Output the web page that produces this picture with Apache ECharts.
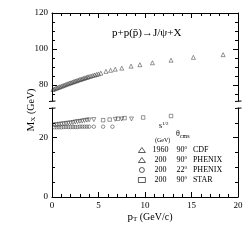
<!DOCTYPE html>
<html><head><meta charset="utf-8">
<script src="https://cdn.jsdelivr.net/npm/echarts@6/dist/echarts.min.js"></script>
<style>html,body{margin:0;padding:0;background:#fff}#c{width:251px;height:251px}</style>
</head><body><div id="c"></div>
<script>
// ---- data ----
const cdfPt = [0.1,0.25,0.4,0.55,0.7,0.85,1.0,1.15,1.3,1.45,1.6,1.75,1.9,2.05,2.2,2.35,2.5,2.65,2.8,2.95,3.1,3.25,3.4,3.55,3.7,3.85,4.0,4.2,4.4,4.6,4.8,5.0,5.25,5.8,6.3,6.8,7.5,8.5,9.45,10.8,12.8,15.2,18.4];
const cdfM  = [77.4,77.7,78.0,78.3,78.6,78.9,79.2,79.5,79.8,80.1,80.4,80.7,81.0,81.2,81.5,81.8,82.1,82.3,82.6,82.9,83.1,83.4,83.6,83.9,84.1,84.4,84.6,84.9,85.2,85.5,85.8,86.1,86.5,87.5,88.1,88.7,89.3,90.4,91.2,92.3,93.7,95.3,96.8];
const phx90Pt = [0.25,0.5,0.75,1.0,1.25,1.5,1.75,2.0,2.25,2.5,2.75,3.0,3.25,3.5,3.75,4.0,4.5,6.8,7.5,8.55];
const phx90M  = [24.3,24.4,24.5,24.6,24.7,24.8,24.9,25.0,25.1,25.3,25.4,25.5,25.6,25.8,25.9,26.0,26.1,26.2,26.3,26.3];
const phx22Pt = [0.25,0.5,0.75,1.0,1.25,1.5,1.75,2.0,2.25,2.5,2.75,3.0,3.25,3.5,3.75,4.0,4.5,5.5,6.5];
const phx22M  = [23.5,23.5,23.5,23.5,23.6,23.6,23.6,23.6,23.6,23.6,23.6,23.7,23.7,23.7,23.7,23.7,23.7,23.7,23.7];
const starPt = [5.5,6.2,7.1,7.8,9.8,12.8];
const starM  = [25.9,26.1,26.4,26.6,26.8,27.3];
const xTickLabels = [0,5,10,15,20];
const upperLabels = [80,100,120];
const upperMinor = [75,85,90,95,105,110,115];
const lowerLabels = [0,20];
const lowerMinor = [5,10,15,25];
const legendRows = [
  {name:'CDF', s:'1960', th:'90', exp:'CDF'},
  {name:'PHENIX90', s:'200', th:'90', exp:'PHENIX'},
  {name:'PHENIX22', s:'200', th:'22', exp:'PHENIX'},
  {name:'STAR', s:'200', th:'90', exp:'STAR'}
];

const FONT = '"Liberation Serif","DejaVu Serif",serif';
const zip = (a,b)=>a.map((v,i)=>[v,b[i]]);
const chart = echarts.init(document.getElementById('c'), null, {renderer:'canvas'});

const L = 52, R = 13;
const axisLine = {show:true, lineStyle:{color:'#000', width:1}};
function xAx(grid, pos, labels){
  return {type:'value', gridIndex:grid, position:pos, min:0, max:20, interval:5,
    axisLine: axisLine,
    axisTick:{show:true, inside:true, length:5, lineStyle:{color:'#000', width:1}},
    minorTick:{show:true, splitNumber:5, length:3, lineStyle:{color:'#000', width:1}},
    splitLine:{show:false}, minorSplitLine:{show:false},
    axisLabel:{show:labels, color:'#000', fontFamily:FONT, fontSize:9, margin:4}};
}
function yMajor(grid, pos, min, max, vals, labels){
  return {type:'value', gridIndex:grid, position:pos, min:min, max:max,
    axisLine: axisLine,
    axisTick:{show:true, inside:true, length:5, customValues:vals, lineStyle:{color:'#000', width:1}},
    splitLine:{show:false},
    axisLabel:{show:labels, customValues:vals, color:'#000', fontFamily:FONT, fontSize:9, margin:4}};
}
function yMinor(grid, pos, min, max, vals){
  return {type:'value', gridIndex:grid, position:pos, min:min, max:max,
    axisLine:{show:false},
    axisTick:{show:true, inside:true, length:3, customValues:vals, lineStyle:{color:'#000', width:1}},
    splitLine:{show:false},
    axisLabel:{show:false, customValues:vals}};
}
const hollow = {color:'rgba(0,0,0,0)', borderColor:'#222', borderWidth:0.6};
function legendFmt(name){
  const r = legendRows.find(d=>d.name===name);
  return '{a|'+r.s+'}{sp|}{b|'+r.th+'}{o|0}{sp2|}{c|'+r.exp+'}';
}
const option = {
  animation:false,
  backgroundColor:'#fff',
  grid:[
    {left:L, right:R, top:13, height:88, containLabel:false},
    {left:L, right:R, top:108, height:89, containLabel:false}
  ],
  xAxis:[ xAx(0,'top',false), xAx(1,'bottom',true) ],
  yAxis:[
    yMajor(0,'left',71,120,upperLabels,true),
    yMinor(0,'left',71,120,upperMinor),
    yMajor(0,'right',71,120,upperLabels,false),
    yMinor(0,'right',71,120,upperMinor),
    yMajor(1,'left',0,30,lowerLabels,true),
    yMinor(1,'left',0,30,lowerMinor),
    yMajor(1,'right',0,30,lowerLabels,false),
    yMinor(1,'right',0,30,lowerMinor)
  ],
  legend:{
    orient:'vertical', left:138, top:145, padding:0, itemWidth:7, itemHeight:5, itemGap:0,
    data:legendRows.map(r=>r.name), selectedMode:false,
    itemStyle:{borderWidth:0.8, borderColor:'#000'},
    formatter:legendFmt,
    textStyle:{fontFamily:FONT, fontSize:8, color:'#000', lineHeight:10,
      rich:{
        a:{width:20, align:'right', fontFamily:FONT, fontSize:8, color:'#000'},
        sp:{width:6},
        b:{fontFamily:FONT, fontSize:8, color:'#000'},
        o:{fontFamily:FONT, fontSize:5, color:'#000', verticalAlign:'top', padding:[0,0,4,0]},
        sp2:{width:6},
        c:{fontFamily:FONT, fontSize:8, color:'#000'}
      }}
  },
  series:[
    {name:'CDF', type:'scatter', xAxisIndex:0, yAxisIndex:0, symbol:'triangle', symbolSize:4, itemStyle:hollow, data:zip(cdfPt,cdfM)},
    {name:'PHENIX90', type:'scatter', xAxisIndex:1, yAxisIndex:4, symbol:'triangle', symbolRotate:180, symbolSize:4, itemStyle:hollow, data:zip(phx90Pt,phx90M)},
    {name:'PHENIX22', type:'scatter', xAxisIndex:1, yAxisIndex:4, symbol:'circle', symbolSize:3.5, itemStyle:hollow, data:zip(phx22Pt,phx22M)},
    {name:'STAR', type:'scatter', xAxisIndex:1, yAxisIndex:4, symbol:'rect', symbolSize:3.5, itemStyle:hollow, data:zip(starPt,starM)}
  ],
  graphic:[
    {type:'text', left:112, top:28, style:{text:'p+p(p\u0304)\u2192J/\u03c8+X', font:'11px '+FONT, fill:'#000'}},
    {type:'text', x:31, y:110, rotation:Math.PI/2, style:{
      text:'{m|M}{s|X}{g| (GeV)}', align:'center', verticalAlign:'middle',
      rich:{m:{font:'11px '+FONT, fill:'#000'}, s:{font:'7px '+FONT, fill:'#000', verticalAlign:'bottom', padding:[4,0,0,0]}, g:{font:'10px '+FONT, fill:'#000'}}}},
    {type:'text', x:150, y:217, style:{
      text:'{m|p}{s|T}{g| (GeV/c)}', align:'center', verticalAlign:'middle',
      rich:{m:{font:'11px '+FONT, fill:'#000'}, s:{font:'7px '+FONT, fill:'#000', padding:[5,0,0,0]}, g:{font:'10px '+FONT, fill:'#000'}}}},
    {type:'text', left:159, top:121, style:{text:'{s|s}{sup|1/2}', rich:{s:{font:'8px '+FONT, fill:'#000'}, sup:{font:'5px '+FONT, fill:'#000', verticalAlign:'top', padding:[0,0,5,0]}}}},
    {type:'text', left:155, top:137, style:{text:'(GeV)', font:'6px '+FONT, fill:'#000'}},
    {type:'text', left:176, top:130, style:{text:'{t|\u03b8}{s|cms}', rich:{t:{font:'8px '+FONT, fill:'#000'}, s:{font:'6px '+FONT, fill:'#000', padding:[4,0,0,0]}}}},
    {type:'line', shape:{x1:49, y1:101.5, x2:55.5, y2:101}, style:{stroke:'#000', lineWidth:1}},
    {type:'line', shape:{x1:49, y1:108.5, x2:55.5, y2:108}, style:{stroke:'#000', lineWidth:1}},
    {type:'line', shape:{x1:235, y1:101.5, x2:241.5, y2:101}, style:{stroke:'#000', lineWidth:1}},
    {type:'line', shape:{x1:235, y1:108.5, x2:241.5, y2:108}, style:{stroke:'#000', lineWidth:1}}
  ]
};
chart.setOption(option);
</script></body></html>
